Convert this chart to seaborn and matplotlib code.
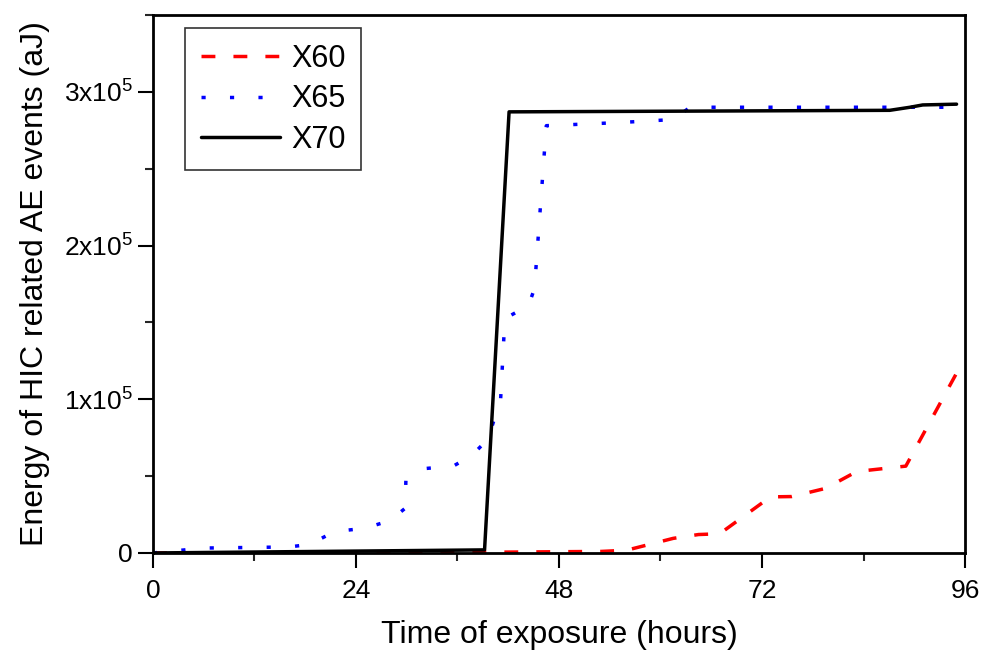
import numpy as np
import pandas as pd
import matplotlib
matplotlib.use('Agg')
import matplotlib.pyplot as plt
import seaborn as sns
from matplotlib.ticker import MultipleLocator, FuncFormatter

# Data
t60 = [0, 40, 53, 56, 61.5, 64.5, 67, 73, 75.5, 79.5, 83.2, 89, 95.2]
e60 = [0, 500, 1000, 1800, 9500, 12000, 12500, 36500, 36700, 42000, 53000, 56500, 119000]

t65 = [0, 6, 16, 18.5, 21.5, 25, 28, 29.8, 29.9, 32.3, 35.5, 37.7, 39.6,
       41.1, 41.5, 42.1, 44.4, 45.1, 46.5, 55, 61.5, 63.5, 96]
e65 = [0, 3200, 3900, 5500, 14000, 16000, 21000, 29000, 47000, 55000, 56500,
       63500, 74000, 100000, 142000, 154000, 161000, 172000, 278000, 280000,
       282000, 290000, 290000]

t70 = [0, 39.2, 42.1, 87.1, 89.5, 91, 95]
e70 = [0, 2000, 287000, 288000, 290000, 291500, 292000]

x_ticks = [0, 24, 48, 72, 96]

sns.set_style('ticks')
plt.rcParams['font.family'] = ['Liberation Sans', 'DejaVu Sans']
plt.rcParams['mathtext.default'] = 'regular'

fig = plt.figure(figsize=(9.85, 6.62), dpi=100)
ax = fig.add_axes([0.1553, 0.1647, 0.8244, 0.8126])

lw = 2.5
sns.lineplot(x=t60, y=e60, ax=ax, color='#ff0000', linewidth=lw,
             sort=False, estimator=None, label='X60',
             linestyle=(0, (4.0, 5.2)))
sns.lineplot(x=t65, y=e65, ax=ax, color='#0000ff', linewidth=lw,
             sort=False, estimator=None, label='X65',
             linestyle=(0, (1.2, 7.0)))
sns.lineplot(x=t70, y=e70, ax=ax, color='black', linewidth=lw,
             sort=False, estimator=None, label='X70')

ax.set_xlim(0, 96)
ax.set_ylim(0, 350000)
ax.set_xticks(x_ticks)
ax.xaxis.set_minor_locator(MultipleLocator(12))
ax.yaxis.set_major_locator(MultipleLocator(100000))
ax.yaxis.set_minor_locator(MultipleLocator(50000))


def sci_fmt(v, pos):
    n = int(round(v / 1e5))
    if n == 0:
        return '0'
    return f'{n}x10$^5$'


ax.yaxis.set_major_formatter(FuncFormatter(sci_fmt))

ax.tick_params(which='major', direction='out', length=11, width=1.5,
               labelsize=19, colors='black')
ax.tick_params(which='minor', direction='out', length=6, width=1.5)
ax.tick_params(axis='x', pad=8)
for s in ax.spines.values():
    s.set_linewidth(2)
    s.set_color('black')

ax.set_xlabel('Time of exposure (hours)', fontsize=23, labelpad=12, color='black')
ax.set_ylabel('Energy of HIC related AE events (aJ)', fontsize=23, labelpad=10,
              color='black')

leg = ax.legend(loc='upper left', bbox_to_anchor=(0.04, 0.975),
                borderaxespad=0, fontsize=22, frameon=True, fancybox=False,
                handlelength=2.6, handletextpad=0.35, labelspacing=0.35,
                borderpad=0.5)
leg.get_frame().set_edgecolor('black')
leg.get_frame().set_linewidth(1.2)
for txt in leg.get_texts():
    txt.set_color('black')

fig.savefig('out.png', dpi=100)
